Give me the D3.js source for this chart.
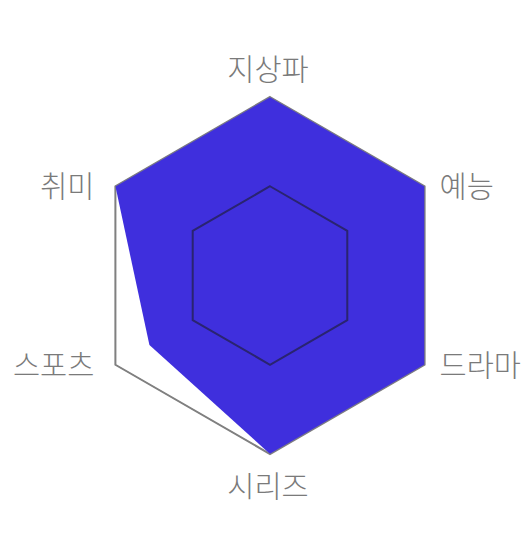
<!DOCTYPE html>
<html><head><meta charset="utf-8">
<script src="https://cdn.jsdelivr.net/npm/d3@7"></script>
<style>body{margin:0;background:#fff}svg{display:block}</style>
</head><body>
<svg id="c" width="526" height="540"></svg>
<script>
const categories = ["지상파","예능","드라마","시리즈","스포츠","취미"];
const values = [100,100,100,100,78,100];
const gridLevels = [50,100];

const svg = d3.select("#c");
const cx = 270, cy = 275.5, R = 178.5;
const r = d3.scaleLinear().domain([0,100]).range([0,R]);
const ang = d3.scalePoint().domain(categories).range([0, 2*Math.PI*(categories.length-1)/categories.length]);
const pt = (c,v) => { const a = ang(c) - Math.PI/2; return [cx + r(v)*Math.cos(a), cy + r(v)*Math.sin(a)]; };
const line = d3.line().curve(d3.curveLinearClosed);

svg.append("path").attr("d", line(categories.map(c=>pt(c,100))))
  .attr("fill","none").attr("stroke","#808080").attr("stroke-width",2);
svg.append("path").attr("d", line(categories.map((c,i)=>pt(c,values[i]))))
  .attr("fill","#3f2fdd");
gridLevels.filter(g=>g<100).forEach(g=>{
  svg.append("path").attr("d", line(categories.map(c=>pt(c,g))))
    .attr("fill","none").attr("stroke","#2a2470").attr("stroke-width",2);
});
svg.append("path").attr("d", line(categories.map(c=>pt(c,100))))
  .attr("fill","none").attr("stroke","#808080").attr("stroke-width",1).attr("stroke-opacity",0.6);

categories.forEach((c,i)=>{
  const a = ang(c) - Math.PI/2;
  const cosA = Math.cos(a), sinA = Math.sin(a);
  let x, y, anchor;
  if (Math.abs(cosA) < 0.01) {
    anchor = "middle"; x = cx - 2;
    y = sinA < 0 ? cy - R - 17 : cy + R + 43;
  } else {
    anchor = cosA > 0 ? "start" : "end";
    const p = pt(c,100);
    x = p[0] + (cosA > 0 ? 15 : -21);
    y = p[1] + 11;
  }
  svg.append("text").attr("x",x).attr("y",y).attr("text-anchor",anchor)
    .attr("font-family","'Noto Sans CJK KR', sans-serif").attr("font-size",29.5)
    .attr("font-weight",300)
    .attr("fill","#7a7a7a").text(c);
});
</script>
</body></html>
